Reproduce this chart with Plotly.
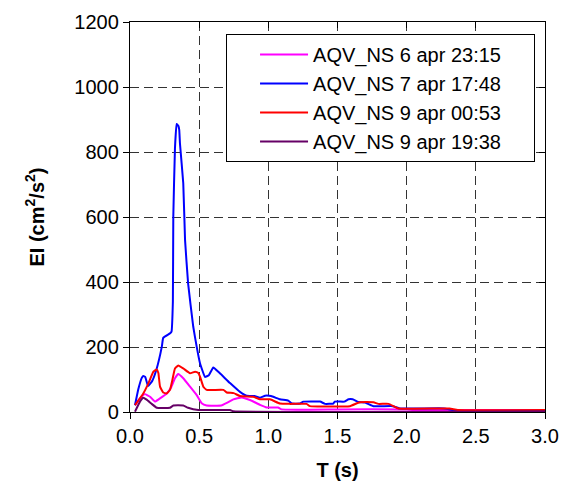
import plotly.graph_objects as go

# ---- data ----
names = ["AQV_NS 6 apr 23:15", "AQV_NS 7 apr 17:48", "AQV_NS 9 apr 00:53", "AQV_NS 9 apr 19:38"]
colors = ["#FF00FF", "#0000FF", "#FF0000", "#660066"]

t_mag = [0.036, 0.072, 0.108, 0.145, 0.18, 0.217, 0.265, 0.30, 0.325, 0.349, 0.385, 0.434, 0.482, 0.518,
         0.554, 0.66, 0.70, 0.747, 0.807, 0.867, 0.94, 0.988, 1.07, 1.096, 1.5, 2.0, 2.05, 3.0]
ei_mag = [21, 42, 55, 47, 32, 42, 57, 78, 104, 117, 104, 78, 52, 27,
          20, 20, 28, 39, 45, 37, 22, 14, 14, 8, 8, 8, 6, 6]

t_blue = [0.036, 0.06, 0.085, 0.096, 0.11, 0.13, 0.16, 0.19, 0.23, 0.24, 0.29, 0.30, 0.31, 0.313, 0.325,
          0.337, 0.35, 0.356, 0.361, 0.385, 0.398, 0.42, 0.457, 0.482, 0.506, 0.542, 0.57, 0.602,
          0.65, 0.723, 0.795, 0.843, 0.90, 0.94, 0.976, 1.02, 1.084, 1.144, 1.17, 1.23, 1.253,
          1.374, 1.41, 1.47, 1.48, 1.55, 1.58, 1.61, 1.65, 1.70, 1.76, 1.90, 1.95, 2.27, 2.36, 3.0]
ei_blue = [21, 70, 105, 111, 108, 80, 95, 129, 201, 228, 242, 247, 340, 601, 811,
           886, 880, 868, 827, 704, 529, 396, 263, 201, 150, 108, 113, 137,
           119, 89, 62, 50, 49, 44, 50, 49, 39, 35, 26, 26, 32,
           32, 25, 26, 32, 32, 39, 39, 31, 29, 18, 18, 11, 11, 4, 4]

t_red = [0.036, 0.096, 0.133, 0.169, 0.193, 0.205, 0.217, 0.24, 0.265, 0.289, 0.306, 0.325, 0.349,
         0.385, 0.434, 0.47, 0.494, 0.506, 0.53, 0.554, 0.675, 0.699, 0.75, 0.795, 0.891, 0.94,
         1.012, 1.084, 1.157, 1.277, 1.30, 1.59, 1.66, 1.76, 1.795, 1.87, 1.94, 2.31, 2.37, 3.0]
ei_red = [21, 57, 88, 124, 131, 120, 78, 60, 57, 68, 98, 134, 143,
          134, 119, 124, 120, 109, 78, 68, 68, 60, 58, 49, 47, 39,
          39, 26, 25, 25, 18, 18, 30, 30, 25, 25, 11, 11, 6, 6]

t_pur = [0.036, 0.072, 0.096, 0.12, 0.157, 0.193, 0.289, 0.313, 0.385, 0.42, 0.494, 0.723, 0.747, 3.0]
ei_pur = [1, 32, 44, 38, 25, 13, 13, 20, 20, 13, 6, 6, 2, 2]

x_ticks = [0.0, 0.5, 1.0, 1.5, 2.0, 2.5, 3.0]
x_ticklabels = ["0.0", "0.5", "1.0", "1.5", "2.0", "2.5", "3.0"]
y_ticks = [0, 200, 400, 600, 800, 1000, 1200]

series = [(t_mag, ei_mag), (t_blue, ei_blue), (t_red, ei_red), (t_pur, ei_pur)]

FONT = "Arial, Liberation Sans, sans-serif"
PAD = "\u00a0" * 5  # right padding inside the legend box

fig = go.Figure()
for (xs, ys), nm, col in zip(series, names, colors):
    fig.add_trace(go.Scatter(x=xs, y=ys, mode="lines", name=nm + PAD,
                             line=dict(color=col, width=2, shape="spline", smoothing=0.3)))

# mirrored inside ticks on top/right
fig.add_trace(go.Scatter(x=[None], y=[None], xaxis="x2", yaxis="y2", showlegend=False, hoverinfo="skip"))

fig.update_layout(
    width=573, height=489,
    paper_bgcolor="white", plot_bgcolor="white",
    margin=dict(l=122, r=36, t=14, b=85, autoexpand=False),
    font=dict(family=FONT, size=20, color="black"),
    showlegend=True,
    legend=dict(
        x=0.976, xanchor="right", y=0.969, yanchor="top",
        bgcolor="white", bordercolor="black", borderwidth=1,
        font=dict(family=FONT, size=20, color="black"),
        itemwidth=48, indentation=28, tracegroupgap=0,
    ),
    xaxis=dict(
        range=[0, 3.0], tickvals=x_ticks, ticktext=x_ticklabels, automargin=False,
        showline=True, linecolor="black", linewidth=1.3, mirror=True,
        ticks="outside", ticklen=6, tickcolor="black", tickwidth=1,
        showgrid=True, gridcolor="#333333", gridwidth=1, griddash="9px,5px",
        zeroline=False,
        title=dict(text="<b>T (s)</b>", font=dict(size=20), standoff=16),
        tickfont=dict(size=20),
    ),
    yaxis=dict(
        range=[0, 1200], tickvals=y_ticks, automargin=False,
        showline=True, linecolor="black", linewidth=1.3, mirror=True,
        ticks="outside", ticklen=6, tickcolor="black", tickwidth=1,
        showgrid=True, gridcolor="#333333", gridwidth=1, griddash="9px,5px",
        zeroline=False,
        title=dict(text="<b>EI (cm<sup>2</sup>/s<sup>2</sup>)</b>", font=dict(size=20), standoff=24),
        tickfont=dict(size=20),
    ),
    xaxis2=dict(overlaying="x", matches="x", side="top", tickvals=x_ticks, showticklabels=False,
                automargin=False,
                ticks="inside", ticklen=6, tickcolor="black", showgrid=False, zeroline=False, showline=False),
    yaxis2=dict(overlaying="y", matches="y", side="right", tickvals=y_ticks, showticklabels=False,
                automargin=False,
                ticks="inside", ticklen=6, tickcolor="black", showgrid=False, zeroline=False, showline=False),
)

fig.write_html("out.html")
